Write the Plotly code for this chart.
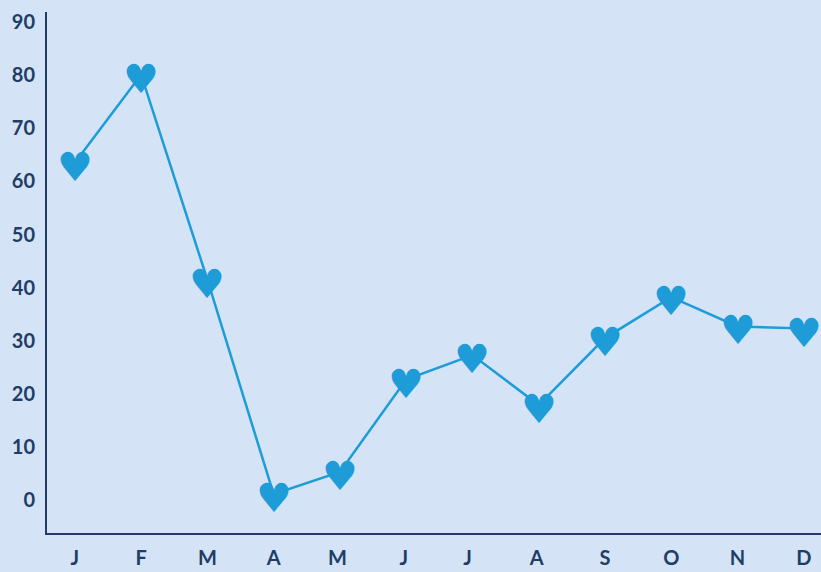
import plotly.graph_objects as go

months = ["J", "F", "M", "A", "M ", "J ", "J  ", "A ", "S", "O", "N", "D"]
values = [63.5, 80.1, 41.5, 1.1, 5.3, 22.7, 27.3, 17.9, 30.5, 38.2, 32.7, 32.3]
y_ticks = [0, 10, 20, 30, 40, 50, 60, 70, 80, 90]

blue = "#1e9cd7"
navy = "#1f3d66"
bg = "#d4e4f6"

fig = go.Figure()
fig.add_trace(go.Scatter(
    x=months, y=values, mode="lines",
    line=dict(color=blue, width=2.5),
    hoverinfo="skip", showlegend=False, cliponaxis=False,
))

for m, v in zip(months, values):
    fig.add_annotation(
        x=m, y=v, text="\u2665", showarrow=False,
        font=dict(family="DejaVu Sans", size=40, color=blue),
        xanchor="center", yanchor="middle", yshift=-4,
    )

fig.update_layout(
    width=821, height=572,
    paper_bgcolor=bg, plot_bgcolor=bg,
    margin=dict(l=47, r=0, t=12, b=39, autoexpand=False),
    font=dict(family="Lato", size=20, color=navy),
)
fig.update_xaxes(
    type="category", range=[-0.42, 11.26],
    showgrid=False, zeroline=False, automargin=False,
    showline=True, linecolor=navy, linewidth=2,
    tickfont=dict(family="Lato", size=20, color=navy, weight="bold"),
    ticklabelstandoff=6,
)
fig.update_yaxes(
    range=[-6.2, 91.9], tickvals=y_ticks,
    showgrid=False, zeroline=False, automargin=False,
    showline=True, linecolor=navy, linewidth=2,
    tickfont=dict(family="Lato", size=20, color=navy, weight="bold"),
    ticklabelstandoff=6,
)

fig.write_html("out.html", config={"displayModeBar": False},
               post_script="document.body.style.margin='0';")
